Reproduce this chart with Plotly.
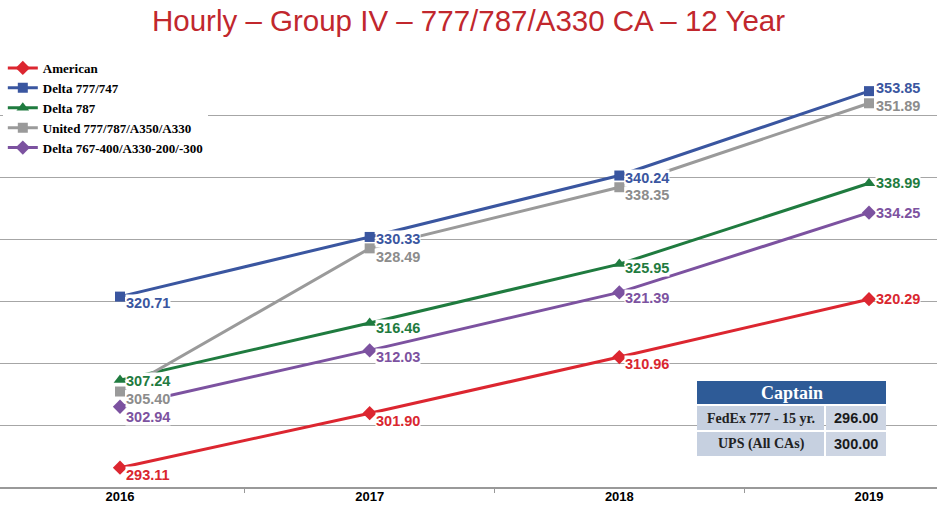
import plotly.graph_objects as go

# ---------------- data ----------------
years = ["2016", "2017", "2018", "2019"]
american = [293.11, 301.90, 310.96, 320.29]
delta_777_747 = [320.71, 330.33, 340.24, 353.85]
delta_787 = [307.24, 316.46, 325.95, 338.99]
united_777_787 = [305.40, 328.49, 338.35, 351.89]
delta_767_a330 = [302.94, 312.03, 321.39, 334.25]

series_names = ["American", "Delta 777/747", "Delta 787",
                "United 777/787/A350/A330", "Delta 767-400/A330-200/-300"]
series_values = [american, delta_777_747, delta_787, united_777_787, delta_767_a330]

table_header = "Captain"
table_labels = ["FedEx 777 - 15 yr.", "UPS (All CAs)"]
table_values = ["296.00", "300.00"]

title_text = "Hourly – Group IV – 777/787/A330 CA – 12 Year"

# ---------------- styles ----------------
colors = ["#dc2630", "#3a56a0", "#1f7b3f", "#9a9a9a", "#7c52a0"]
label_colors = ["#d9262f", "#3a56a0", "#1f7b3f", "#8c8c8c", "#7c52a0"]
symbols = ["diamond", "square", "triangle-up", "square", "diamond"]
# vertical pixel offset (downwards) of each value label from its marker
label_dy = [
    [7, 8, 7, 0],
    [6, 2, 2, -3],
    [1, 5, 4, 0],
    [7, 9, 8, 3],
    [10, 7, 6, 0],
]

W, H = 937, 527
ML, MR, MT, MB = 0, 0, 53, 40
PW, PH = W - ML - MR, H - MT - MB


def px(x):
    return (x - ML) / PW


def py(y):
    return (H - MB - y) / PH


fig = go.Figure()
for name, vals, c, s in zip(series_names, series_values, colors, symbols):
    fig.add_trace(go.Scatter(
        x=years, y=vals, name=name, mode="lines+markers",
        line=dict(color=c, width=3),
        marker=dict(symbol=s, size=11 if s != "square" else 10, color=c),
        hoverinfo="x+y+name",
    ))

annotations = []
for vals, lc, dys in zip(series_values, label_colors, label_dy):
    n = len(vals)
    for i, (v, dy) in enumerate(zip(vals, dys)):
        last = i == n - 1
        annotations.append(dict(
            x=i, y=v, xref="x", yref="y", text=f"{v:.2f}", showarrow=False,
            xanchor="left", yanchor="middle",
            xshift=6 if last else 5, yshift=-dy,
            font=dict(family="Liberation Sans, Arial", size=14.5, color=lc, weight="bold"),
            bgcolor="white", borderpad=0,
        ))

# ---------------- table (captain reference rates) ----------------
shapes = []
tx0, tx1, tsplit = 697, 886, 825
hy0, hy1 = 381, 404
rows_y = [(406, 430), (432, 456)]
shapes.append(dict(type="rect", xref="paper", yref="paper",
                   x0=px(tx0), x1=px(tx1), y0=py(hy1), y1=py(hy0),
                   fillcolor="#2e5b97", line=dict(width=0), layer="above"))
annotations.append(dict(x=px((tx0 + tx1) / 2), y=py((hy0 + hy1) / 2), xref="paper", yref="paper",
                        text=table_header, showarrow=False, xanchor="center", yanchor="middle",
                        font=dict(family="Liberation Serif, Times New Roman", size=18,
                                  color="white", weight="bold")))
for (ry0, ry1), lab, val in zip(rows_y, table_labels, table_values):
    shapes.append(dict(type="rect", xref="paper", yref="paper",
                       x0=px(tx0), x1=px(tsplit - 1), y0=py(ry1), y1=py(ry0),
                       fillcolor="#c6d0e0", line=dict(width=0), layer="above"))
    shapes.append(dict(type="rect", xref="paper", yref="paper",
                       x0=px(tsplit + 1), x1=px(tx1), y0=py(ry1), y1=py(ry0),
                       fillcolor="#cdd5e3", line=dict(width=0), layer="above"))
    annotations.append(dict(x=px((tx0 + tsplit) / 2), y=py((ry0 + ry1) / 2), xref="paper", yref="paper",
                            text=lab, showarrow=False, xanchor="center", yanchor="middle",
                            font=dict(family="Liberation Serif, Times New Roman", size=14,
                                      color="#222222", weight="bold")))
    annotations.append(dict(x=px((tsplit + tx1) / 2), y=py((ry0 + ry1) / 2), xref="paper", yref="paper",
                            text=val, showarrow=False, xanchor="center", yanchor="middle",
                            font=dict(family="Liberation Sans, Arial", size=14.5,
                                      color="#1a1a1a", weight="bold")))

# x range so that category centres sit at the reference positions
x_per = 749 / 3.0
r0 = -120 / x_per
r1 = r0 + PW / x_per

fig.update_layout(
    width=W, height=H,
    margin=dict(l=ML, r=MR, t=MT, b=MB),
    paper_bgcolor="white", plot_bgcolor="white",
    title=dict(text=title_text, x=0.5, xanchor="center", y=1 - 21 / H, yanchor="middle",
               yref="container",
               font=dict(family="Liberation Sans, Arial", size=29.5, color="#c1272d")),
    xaxis=dict(type="category", range=[r0, r1], showgrid=False, zeroline=False,
               tickson="boundaries", ticks="outside", ticklen=4, tickcolor="#999999",
               showline=True, linecolor="#999999", linewidth=1.5, ticklabelstandoff=-3,
               tickfont=dict(family="Liberation Sans Narrow, Liberation Sans, Arial", size=13,
                             color="black", weight="bold"),
               fixedrange=True),
    yaxis=dict(range=[290, 360], tickvals=[300, 310, 320, 330, 340, 350],
               showticklabels=False, showgrid=True, gridcolor="#a6a6a6", gridwidth=1,
               zeroline=False, showline=False, fixedrange=True),
    showlegend=True,
    legend=dict(x=0.003, y=py(53), xanchor="left", yanchor="top",
                bgcolor="white", borderwidth=0, tracegroupgap=0,
                font=dict(family="Liberation Serif, Times New Roman", size=13,
                          color="black", weight="bold")),
    annotations=annotations,
    shapes=shapes,
)

fig.write_html("out.html", config={"displayModeBar": False},
               post_script="document.body.style.margin='0';")
